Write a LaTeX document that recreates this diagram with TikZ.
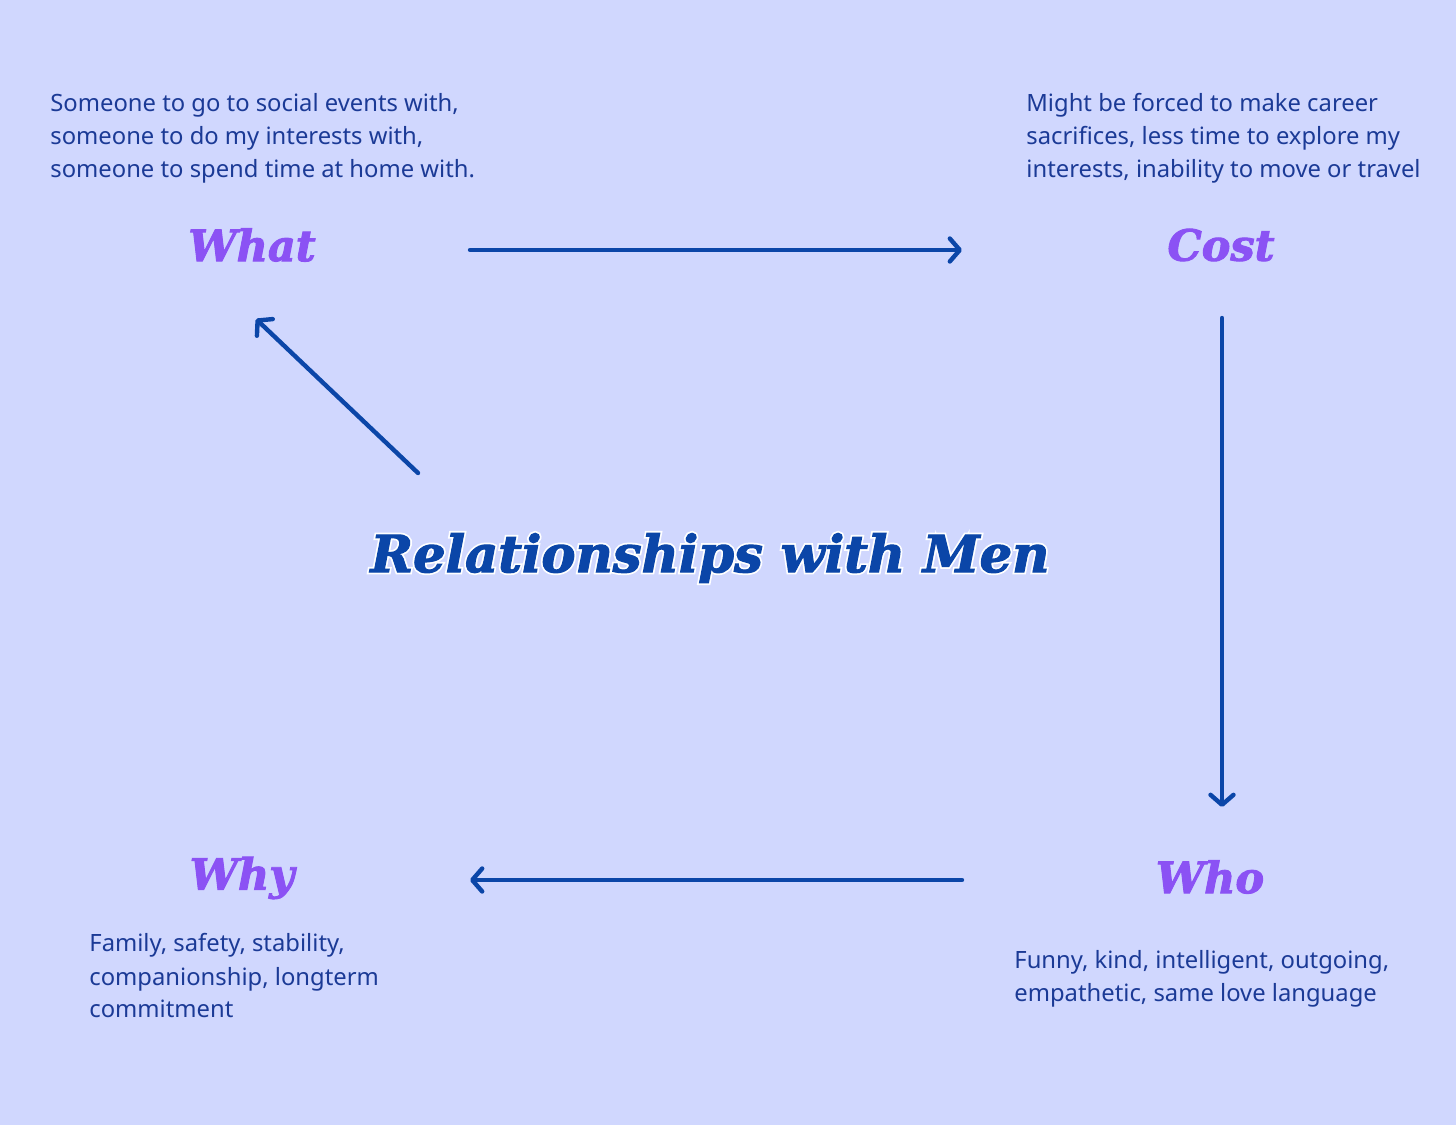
\documentclass[tikz,border=0pt]{standalone}
\usepackage{fontspec}
\setmainfont{Noto Sans}
\newfontfamily\headfont{DejaVu Serif}[UprightFont=* Bold Italic,FakeBold=2.2]
\newfontfamily\rimfont{DejaVu Serif}[UprightFont=* Bold Italic,FakeBold=9]
\usetikzlibrary{arrows.meta}
\definecolor{bgpale}{HTML}{D0D7FE}
\definecolor{bluetext}{HTML}{1B3A96}
\definecolor{bluearrow}{HTML}{0B46A8}
\definecolor{purplehead}{HTML}{8B52F4}
\newcommand{\rimtitle}[1]{{\rimfont\color{white}\rlap{#1}}{\headfont #1}}
\tikzset{
  bodytext/.style={anchor=west,inner sep=0pt,align=left,text=bluetext,
    font=\fontsize{11.9}{16.5}\selectfont},
  headtext/.style={inner sep=0pt,text=purplehead,
    font=\headfont\fontsize{21.5}{21.5}\selectfont},
  titletext/.style={inner sep=0pt,text=bluearrow,
    font=\fontsize{25.6}{25.6}\selectfont},
  flowarrow/.style={bluearrow,line width=2.2pt,line cap=round,
    -{Straight Barb[length=5pt,width=11.5pt,line cap=round,line join=round]}}
}

\begin{document}
\begin{tikzpicture}[x=0.5pt,y=-0.5pt]
  \fill[bgpale] (0,0) rectangle (1456,1125);
  \useasboundingbox (0,0) rectangle (1456,1125);
  % headings
  \node[headtext] (what) at (252,245) {What};
  \node[headtext] (cost) at (1221,245) {Cost};
  \node[headtext] (who) at (1210,877) {Who};
  \node[headtext] (why) at (242,878) {Why};
  % title
  \node[titletext] (title) at (710,558) {\rimtitle{Relationships with Men}};
  % texts
  \node[bodytext] (whatnote) at (50,138) {Someone to go to social events with,\\
    someone to do my interests with,\\ someone to spend time at home with.};
  \node[bodytext] (costnote) at (1026,138) {Might be forced to make career\\
    sacrifices, less time to explore my\\ interests, inability to move or travel};
  \node[bodytext] (whynote) at (89,976) {Family, safety, stability,\\
    companionship, longterm\\ commitment};
  \node[bodytext] (whonote) at (1014,979) {Funny, kind, intelligent, outgoing,\\
    empathetic, same love language};
  % arrow ends
  \coordinate (a1) at (470,250);
  \coordinate (a2) at (962,250);
  \coordinate (b1) at (1222,318);
  \coordinate (b2) at (1222,807);
  \coordinate (c1) at (962,880);
  \coordinate (c2) at (470,880);
  \coordinate (d1) at (418,473);
  \coordinate (d2) at (256,319);
  \draw[flowarrow] (a1) -- (a2);
  \draw[flowarrow] (b1) -- (b2);
  \draw[flowarrow] (c1) -- (c2);
  \draw[flowarrow] (d1) -- (d2);
\end{tikzpicture}
\end{document}
